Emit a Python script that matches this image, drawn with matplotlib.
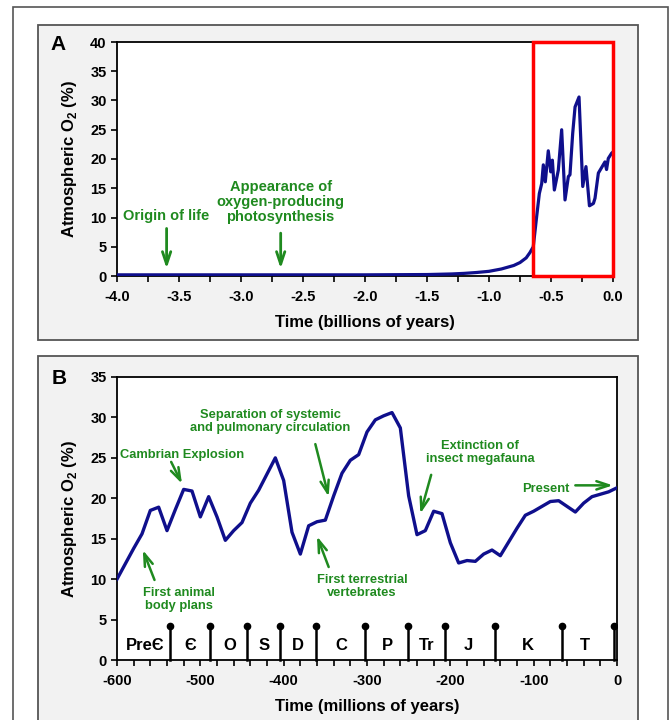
import matplotlib
matplotlib.use("Agg")
import matplotlib.pyplot as plt
from matplotlib.patches import Rectangle
import numpy as np

plt.rcParams['font.family'] = ['Liberation Sans', 'DejaVu Sans']
plt.rcParams['font.weight'] = 'bold'
plt.rcParams['axes.unicode_minus'] = False
plt.rcParams['mathtext.fontset'] = 'custom'
plt.rcParams['mathtext.rm'] = 'Liberation Sans:bold'
plt.rcParams['mathtext.bf'] = 'Liberation Sans:bold'

# ---------------- Data ----------------
# Panel A: time in billions of years, O2 in %
a_time = [-4.0, -3.0, -2.0, -1.5, -1.3, -1.2, -1.1, -1.0, -0.9, -0.8, -0.75, -0.7,
          -0.67, -0.643, -0.616, -0.594, -0.575, -0.562, -0.546, -0.522, -0.502,
          -0.489, -0.473, -0.441, -0.414, -0.387, -0.360, -0.347, -0.325, -0.306,
          -0.274, -0.244, -0.218, -0.190, -0.158, -0.145, -0.118, -0.065, -0.052,
          -0.038, -0.011, 0.0]
a_o2 = [0.2, 0.2, 0.2, 0.25, 0.35, 0.45, 0.6, 0.8, 1.2, 1.8, 2.3, 3.1,
        4.0, 5.0, 10.1, 14.1, 15.8, 19.0, 16.1, 21.4, 17.8,
        19.8, 14.7, 18.1, 25.0, 13.0, 17.0, 17.3, 24.4, 28.9,
        30.6, 15.3, 18.7, 12.0, 12.4, 13.3, 17.6, 19.5, 18.2,
        20.1, 21.0, 21.2]

# Panel B: time in millions of years, O2 in %
b_time = [-600, -590, -580, -570, -560, -550, -540, -530, -520, -510, -500, -490,
          -480, -470, -460, -450, -440, -430, -420, -410, -400, -390, -380, -370,
          -360, -350, -340, -330, -320, -310, -300, -290, -280, -270, -260, -250,
          -240, -230, -220, -210, -200, -190, -180, -170, -160, -150, -140, -130,
          -120, -110, -100, -90, -80, -70, -60, -50, -40, -30, -20, -10, 0]
b_o2 = [10.0, 11.9, 13.8, 15.6, 18.5, 18.9, 16.0, 18.6, 21.1, 20.9, 17.7, 20.2,
        17.7, 14.8, 16.0, 17.0, 19.4, 21.0, 23.0, 25.0, 22.2, 15.8, 13.1, 16.6,
        17.1, 17.3, 20.3, 23.1, 24.7, 25.4, 28.2, 29.7, 30.2, 30.6, 28.7, 20.3,
        15.5, 16.0, 18.4, 18.1, 14.5, 12.0, 12.3, 12.2, 13.1, 13.6, 12.9, 14.6,
        16.3, 17.9, 18.4, 19.0, 19.6, 19.7, 19.0, 18.3, 19.4, 20.2, 20.5, 20.8, 21.3]

# Geologic period boundaries (Myr) and labels
period_bounds = [-536, -488, -444, -405, -361, -302, -251, -206, -147, -66, -4]
period_labels = ['PreЄ', 'Є', 'O', 'S', 'D', 'C', 'P', 'Tr', 'J', 'K', 'T']
period_label_x = [-566, -512, -465, -424, -383, -331, -276, -228, -178, -107, -38]

# Annotations
a_notes = ["Origin of life", "Appearance of\noxygen-producing\nphotosynthesis"]
a_note_x = [-3.6, -2.68]

GREEN = '#1f8a1f'
NAVY = '#0f0f8c'

W, H = 671, 720
fig = plt.figure(figsize=(W / 100, H / 100), dpi=100)
fig.patch.set_facecolor('white')

def fx(px):
    return px / W

def fy(py):
    return 1 - py / H

# outer frame
fig.patches.append(Rectangle((fx(13), fy(730)), fx(668) - fx(13), fy(7) - fy(730),
                             transform=fig.transFigure, facecolor='white',
                             edgecolor='#555555', lw=1.2, zorder=-3))
# panel boxes
fig.patches.append(Rectangle((fx(38), fy(340)), fx(638) - fx(38), fy(25) - fy(340),
                             transform=fig.transFigure, facecolor='#f2f2f2',
                             edgecolor='#555555', lw=1.3, zorder=-2))
fig.patches.append(Rectangle((fx(38), fy(740)), fx(638) - fx(38), fy(356) - fy(740),
                             transform=fig.transFigure, facecolor='#f2f2f2',
                             edgecolor='#555555', lw=1.3, zorder=-2))

TICK_FS = 10.5
LABEL_FS = 12

# ---------------- Panel A ----------------
axA = fig.add_axes([fx(117), fy(276), fx(613) - fx(117), fy(42) - fy(276)])
axA.set_facecolor('white')
axA.plot(a_time, a_o2, color=NAVY, lw=2.3, solid_joinstyle='round', zorder=3)
axA.set_xlim(-4.0, 0.0)
axA.set_ylim(0, 40)
axA.set_xticks(np.arange(-4.0, 0.01, 0.5))
axA.set_xticklabels([f"{v:.1f}" for v in np.arange(-4.0, 0.01, 0.5)])
axA.set_xticks(np.arange(-4.0, 0.01, 0.25), minor=True)
axA.set_yticks(np.arange(0, 41, 5))
axA.tick_params(axis='both', which='both', direction='out', length=4, width=1.2,
                labelsize=TICK_FS, color='black')
axA.tick_params(axis='x', pad=6)
for lab in axA.get_xticklabels() + axA.get_yticklabels():
    lab.set_fontweight('bold')
for s in axA.spines.values():
    s.set_linewidth(1.3)
    s.set_color('black')
axA.spines['right'].set_visible(False)
axA.set_xlabel("Time (billions of years)", fontsize=LABEL_FS, fontweight='bold', labelpad=8)
axA.set_ylabel(r"Atmospheric O$_\mathbf{2}$ (%)", fontsize=LABEL_FS, fontweight='bold', labelpad=8)
axA.add_patch(Rectangle((-0.645, 0), 0.645, 40, facecolor='none', edgecolor='#ff0000',
                        lw=2.5, clip_on=False, zorder=5))
axA.text(-3.6, 10.3, a_notes[0], color=GREEN, fontsize=10.5, fontweight='bold',
         ha='center', va='center')
axA.text(-2.68, 12.6, a_notes[1], color=GREEN, fontsize=10.5, fontweight='bold',
         ha='center', va='center', linespacing=1.1)
for xv, ytop in zip(a_note_x, [8.6, 7.8]):
    axA.annotate('', xy=(xv, 0.8), xytext=(xv, ytop),
                 arrowprops=dict(arrowstyle='->,head_length=0.9,head_width=0.3',
                                 color=GREEN, lw=2.0))
fig.text(fx(50), fy(45), "A", fontsize=15, fontweight='bold', ha='left', va='center')

# ---------------- Panel B ----------------
axB = fig.add_axes([fx(117), fy(660), fx(617) - fx(117), fy(377) - fy(660)])
axB.set_facecolor('white')
axB.plot(b_time, b_o2, color=NAVY, lw=2.4, solid_joinstyle='round', zorder=3)
axB.set_xlim(-600, 0)
axB.set_ylim(0, 35)
axB.set_xticks(np.arange(-600, 1, 100))
axB.set_xticks(np.arange(-600, 1, 20), minor=True)
axB.set_yticks(np.arange(0, 36, 5))
axB.tick_params(axis='both', which='both', direction='out', length=4, width=1.2,
                labelsize=TICK_FS, color='black')
axB.tick_params(axis='x', pad=6)
for lab in axB.get_xticklabels() + axB.get_yticklabels():
    lab.set_fontweight('bold')
for s in axB.spines.values():
    s.set_linewidth(1.3)
    s.set_color('black')
axB.set_xlabel("Time (millions of years)", fontsize=LABEL_FS, fontweight='bold', labelpad=8)
axB.set_ylabel(r"Atmospheric O$_\mathbf{2}$ (%)", fontsize=LABEL_FS, fontweight='bold', labelpad=8)

for xb in period_bounds:
    axB.plot([xb, xb], [0, 4.2], color='black', lw=1.8, zorder=4, clip_on=False)
    axB.plot([xb], [4.2], 'o', color='black', ms=4.5, zorder=4)
for lab, xl in zip(period_labels, period_label_x):
    axB.text(xl, 1.8, lab, fontsize=12, fontweight='bold', ha='center', va='center')

def note(ax, text, x, y, fs=9.3):
    ax.text(x, y, text, color=GREEN, fontsize=fs, fontweight='bold', ha='center',
            va='center', linespacing=1.15)

def arrow(ax, x0, y0, x1, y1):
    ax.annotate('', xy=(x1, y1), xytext=(x0, y0),
                arrowprops=dict(arrowstyle='->,head_length=0.9,head_width=0.3',
                                color=GREEN, lw=1.8, shrinkA=0, shrinkB=0))

note(axB, "Cambrian Explosion", -522, 25.4)
arrow(axB, -535, 24.5, -522, 21.8)
note(axB, "First animal\nbody plans", -526, 7.5)
arrow(axB, -555, 9.9, -569, 13.6)
note(axB, "Separation of systemic\nand pulmonary circulation", -416, 29.5)
arrow(axB, -362, 26.7, -346, 20.2)
note(axB, "First terrestrial\nvertebrates", -306, 9.1)
arrow(axB, -346, 11.5, -360, 15.3)
note(axB, "Extinction of\ninsect megafauna", -164, 25.7)
arrow(axB, -223, 22.9, -236, 18.1)
note(axB, "Present", -86, 21.2)
arrow(axB, -50, 21.6, -5, 21.6)

fig.text(fx(52), fy(378), "B", fontsize=15, fontweight='bold', ha='left', va='center')

fig.savefig("out.png", dpi=100, facecolor='white')
